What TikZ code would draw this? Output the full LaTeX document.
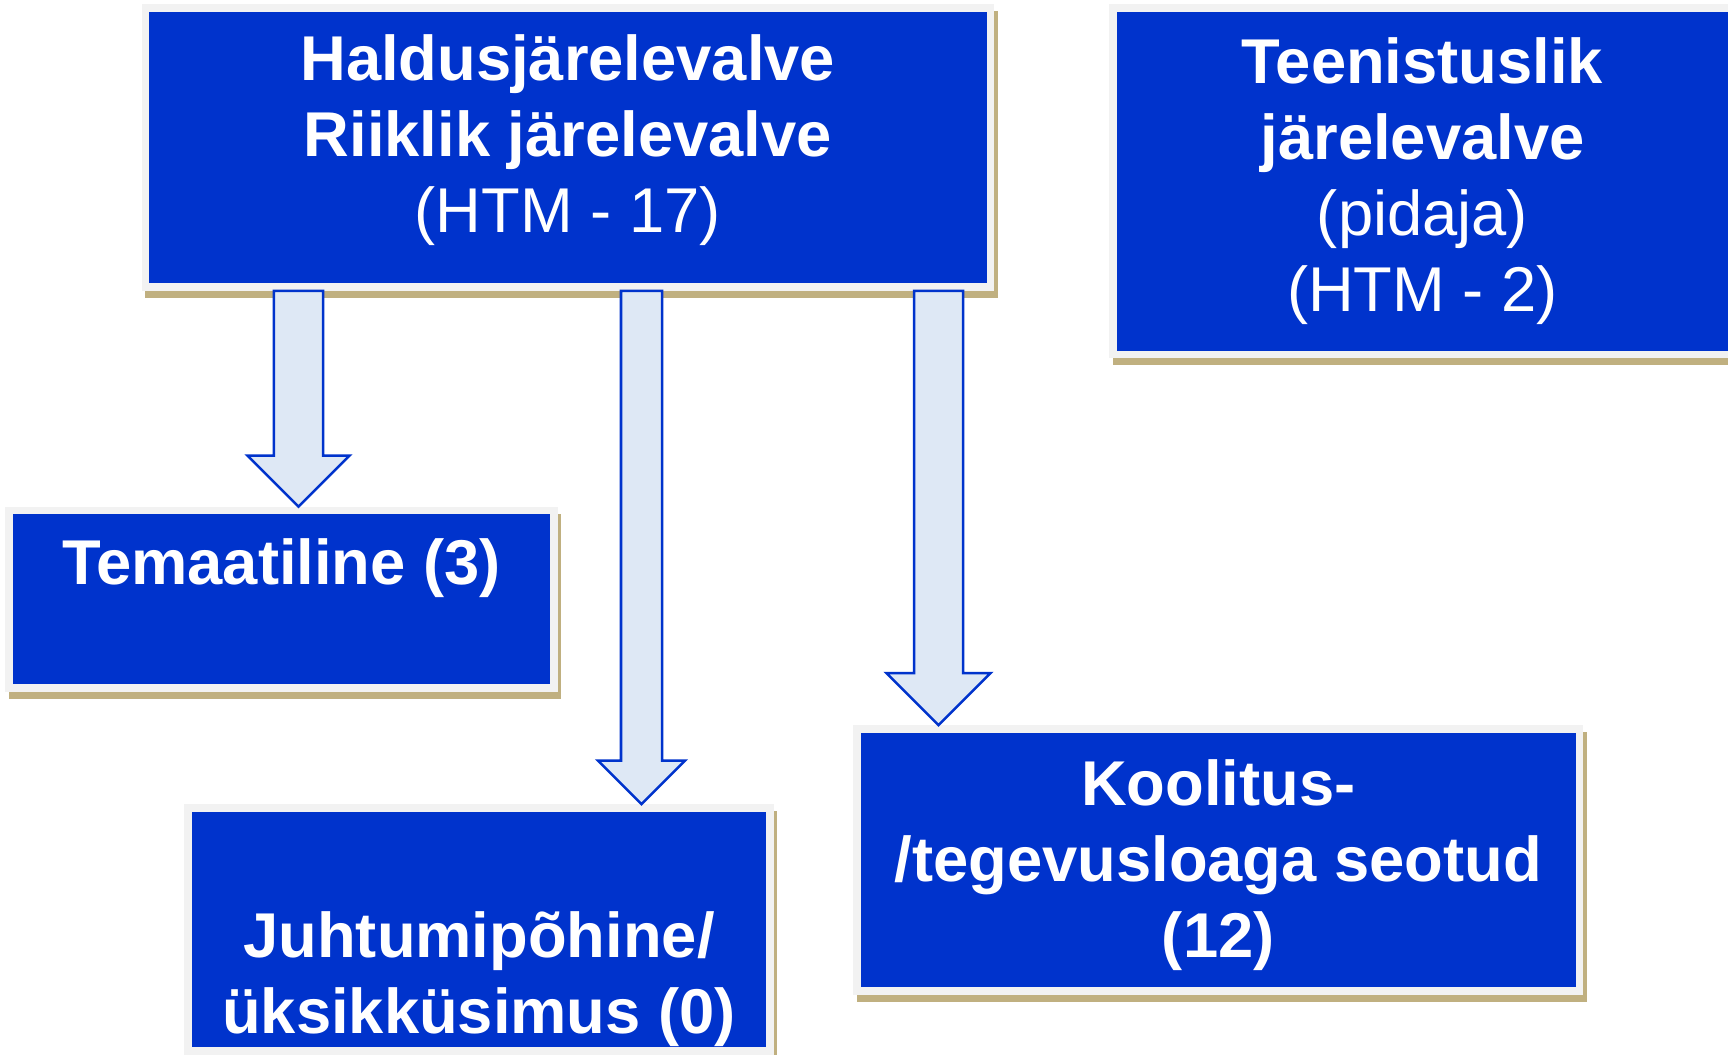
\documentclass[tikz,border=0pt]{standalone}
\usepackage{fontspec}
\setmainfont{Liberation Sans}
\usetikzlibrary{calc}

\definecolor{boxblue}{RGB}{0,51,204}
\definecolor{boxrim}{RGB}{242,242,242}
\definecolor{boxshadow}{RGB}{192,176,128}
\definecolor{arrowfill}{RGB}{222,232,245}

\newcommand{\fatarrow}[5]{%
	\draw[fatarrow] let \p1=(#1,0 |- #2.south), \p2=(#1,0 |- #3.north) in
		(\x1-#4,\y1) -- (\x1+#4,\y1) -- (\x1+#4,\y2+#5) -- (\x1+#5,\y2+#5) -- (\x2,\y2) -- (\x1-#5,\y2+#5) -- (\x1-#4,\y2+#5) -- cycle;}

\begin{document}
\begin{tikzpicture}[x=0.01cm, y=-0.01cm,
		box/.style={fill=boxblue, draw=boxrim, line width=0.075cm, text=white, align=center, inner sep=0pt, font=\fontsize{18}{21.6}\selectfont,
			preaction={draw=boxshadow, fill=boxshadow, line width=0.075cm, transform canvas={shift={(0.035cm,-0.07cm)}}}},
		fatarrow/.style={fill=arrowfill, draw=boxblue, line width=0.025cm, line join=miter}]
				
				\useasboundingbox (0,0) rectangle (1728,1055);
				
				\node[box, minimum width=8.445cm, minimum height=2.79cm] (hald) at (567.75,147.5) {\textbf{Haldusjärelevalve}\\\textbf{Riiklik järelevalve}\\(HTM - 17)\rule[-8pt]{0pt}{8pt}};
				
				\node[box, minimum width=6.19cm, minimum height=3.465cm] (teen) at (1422.5,181.25) {\textbf{Teenistuslik}\\\textbf{järelevalve}\\(pidaja)\\(HTM - 2)};
				
				\node[box, minimum width=5.45cm, minimum height=1.775cm] (tema) at (281.5,599.25) {\textbf{Temaatiline (3)}\\\mbox{}};
				
				\node[box, minimum width=5.82cm, minimum height=2.43cm] (juht) at (479,929.5) {\rule{0pt}{19.5pt}\\\textbf{Juhtumipõhine/}\\\textbf{üksikküsimus (0)}};
				
				\node[box, minimum width=7.225cm, minimum height=2.62cm] (kool) at (1218.25,860) {\textbf{Koolitus-}\rule{0pt}{16pt}\\\textbf{/tegevusloaga seotud}\\\textbf{(12)}};
				
				\fatarrow{298.5}{hald}{tema}{0.245cm}{0.51cm}
				
				\fatarrow{641.5}{hald}{juht}{0.205cm}{0.435cm}
				
				\fatarrow{938.5}{hald}{kool}{0.245cm}{0.52cm}
				
				\end{tikzpicture}
\end{document}
